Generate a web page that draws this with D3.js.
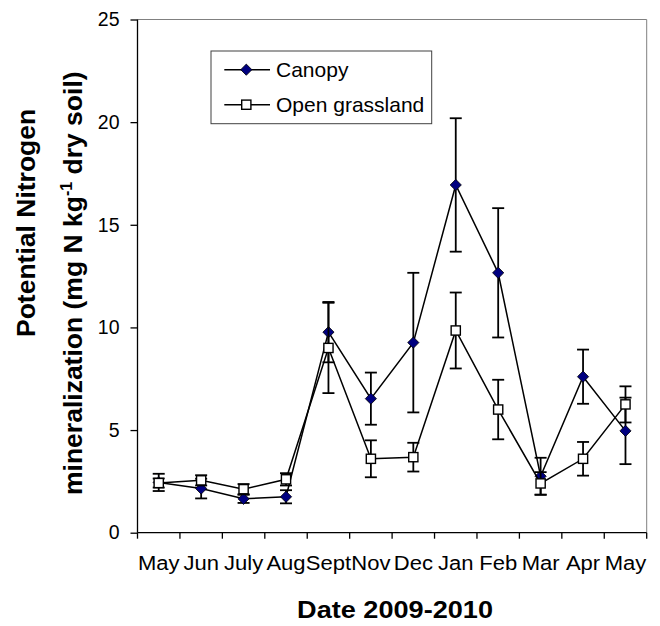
<!DOCTYPE html>
<html>
<head>
<meta charset="utf-8">
<script src="https://cdn.jsdelivr.net/npm/d3@7"></script>
<style>
  html, body { margin: 0; padding: 0; background: #fff; }
  svg { display: block; }
  text { font-family: "Liberation Sans", Arial, sans-serif; fill: #000; }
</style>
</head>
<body>
<svg id="chart" width="660" height="626"></svg>
<script>
// ---- Data ----
const months = ["May", "Jun", "July", "Aug", "Sept", "Nov", "Dec", "Jan", "Feb", "Mar", "Apr", "May"];
const canopy = [2.45, 2.15, 1.65, 1.75, 9.77, 6.53, 9.26, 16.94, 12.66, 2.75, 7.6, 4.96];
const canopyErr = [0.42, 0.48, 0.2, 0.32, 1.47, 1.27, 3.4, 3.25, 3.15, 0.9, 1.32, 1.62];
const openGrass = [2.42, 2.55, 2.12, 2.6, 9.0, 3.6, 3.68, 9.85, 6.0, 2.4, 3.6, 6.25];
const openErr = [0.22, 0.25, 0.25, 0.3, 2.2, 0.9, 0.7, 1.85, 1.45, 0.55, 0.82, 0.88];
const yTicks = [0, 5, 10, 15, 20, 25];
const seriesNames = ["Canopy", "Open grassland"];

// ---- Layout ----
const mLeft = 137.5, mRight = 646.7, mTop = 19.5, mBottom = 532.7;
const svg = d3.select("#chart");

const x = d3.scaleBand().domain(d3.range(months.length)).range([mLeft, mRight]).padding(0);
const y = d3.scaleLinear().domain([0, 25]).range([mBottom, mTop]);
const cx = i => x(i) + x.bandwidth() / 2;

// frame (top & right in gray)
svg.append("path")
  .attr("d", `M${mLeft},${mTop}H${mRight}V${mBottom}`)
  .attr("fill", "none").attr("stroke", "#808080").attr("stroke-width", 1);

// y axis
const yAxis = svg.append("g")
  .attr("transform", `translate(${mLeft},0)`)
  .call(d3.axisLeft(y).tickValues(yTicks).tickSize(7).tickPadding(11).tickFormat(d3.format("d")));
yAxis.selectAll("text").attr("font-size", "19.5px").style("font-family", "'Liberation Sans', Arial, sans-serif");
yAxis.selectAll("line, path").attr("stroke", "#000").attr("stroke-width", 1.3);
yAxis.select(".domain").attr("d", `M0,${mTop}V${mBottom}`);

// x axis (ticks at band boundaries)
const xAxisG = svg.append("g").attr("transform", `translate(0,${mBottom})`);
xAxisG.append("line").attr("x1", mLeft).attr("x2", mRight).attr("y1", 0).attr("y2", 0)
  .attr("stroke", "#000").attr("stroke-width", 1.3);
const bounds = d3.range(months.length + 1).map(i => i < months.length ? x(i) : mRight);
xAxisG.selectAll("line.tk").data(bounds).join("line").attr("class", "tk")
  .attr("x1", d => d).attr("x2", d => d).attr("y1", 0).attr("y2", 6)
  .attr("stroke", "#000").attr("stroke-width", 1.3);
xAxisG.selectAll("g.lbl").data(months).join("g").attr("class", "lbl")
  .attr("transform", (d, i) => `translate(${cx(i)},37)`)
  .append("text")
  .attr("text-anchor", "middle")
  .attr("font-size", "19.5px")
  .attr("transform", "scale(1.13,1)")
  .text(d => d);

// axis titles
const xt = svg.append("g").attr("transform", "translate(395,618)");
xt.append("text").attr("text-anchor", "middle").attr("font-size", "24px")
  .attr("font-weight", "bold").attr("transform", "scale(1.13,1)").text("Date 2009-2010");

svg.append("text")
  .attr("transform", "translate(35,337) rotate(-90)")
  .attr("font-size", "26.5px").attr("font-weight", "bold")
  .text("Potential Nitrogen");
const t2 = svg.append("text")
  .attr("transform", "translate(81.5,495) rotate(-90)")
  .attr("font-size", "26.5px").attr("font-weight", "bold");
t2.append("tspan").text("mineralization (mg N kg");
t2.append("tspan").attr("font-size", "16px").attr("dy", "-10").text("-1");
t2.append("tspan").attr("dy", "10").text(" dry soil)");

// ---- Series ----
const line = d3.line().x((d, i) => cx(i)).y(d => y(d));
const capW = 12;

function errorBars(vals, errs) {
  const g = svg.append("g").attr("stroke", "#000").attr("stroke-width", 1.8);
  vals.forEach((v, i) => {
    const xx = cx(i), y1 = y(v + errs[i]), y0 = y(v - errs[i]);
    g.append("line").attr("x1", xx).attr("x2", xx).attr("y1", y1).attr("y2", y0);
    g.append("line").attr("x1", xx - capW / 2).attr("x2", xx + capW / 2).attr("y1", y1).attr("y2", y1);
    g.append("line").attr("x1", xx - capW / 2).attr("x2", xx + capW / 2).attr("y1", y0).attr("y2", y0);
  });
}
const diamond = (px, py, r) => `M${px},${py - r}L${px + r},${py}L${px},${py + r}L${px - r},${py}Z`;

// Canopy
svg.append("path").datum(canopy).attr("d", line).attr("fill", "none")
  .attr("stroke", "#000").attr("stroke-width", 1.5);
errorBars(canopy, canopyErr);
svg.append("g").selectAll("path").data(canopy).join("path")
  .attr("d", (d, i) => diamond(cx(i), y(d), 5.6))
  .attr("fill", "#000080").attr("stroke", "#000").attr("stroke-width", 0.8);

// Open grassland
svg.append("path").datum(openGrass).attr("d", line).attr("fill", "none")
  .attr("stroke", "#000").attr("stroke-width", 1.5);
errorBars(openGrass, openErr);
svg.append("g").selectAll("rect").data(openGrass).join("rect")
  .attr("x", (d, i) => cx(i) - 4.6).attr("y", d => y(d) - 4.6)
  .attr("width", 9.2).attr("height", 9.2)
  .attr("fill", "#fff").attr("stroke", "#000").attr("stroke-width", 1.4);

// ---- Legend ----
const lg = svg.append("g");
lg.append("rect").attr("x", 211).attr("y", 51).attr("width", 220.7).attr("height", 72.7)
  .attr("fill", "#fff").attr("stroke", "#404040").attr("stroke-width", 1);
const rows = [69.7, 104.7];
seriesNames.forEach((name, k) => {
  const ry = rows[k];
  lg.append("line").attr("x1", 224.3).attr("x2", 270).attr("y1", ry).attr("y2", ry)
    .attr("stroke", "#000").attr("stroke-width", 1.5);
  if (k === 0) {
    lg.append("path").attr("d", diamond(246.3, ry, 5.6))
      .attr("fill", "#000080").attr("stroke", "#000").attr("stroke-width", 0.8);
  } else {
    lg.append("rect").attr("x", 246.3 - 4.6).attr("y", ry - 4.6).attr("width", 9.2).attr("height", 9.2)
      .attr("fill", "#fff").attr("stroke", "#000").attr("stroke-width", 1.4);
  }
  lg.append("text").attr("x", 276).attr("y", ry + 7.5).attr("font-size", "21px").text(name);
});
</script>
</body>
</html>
